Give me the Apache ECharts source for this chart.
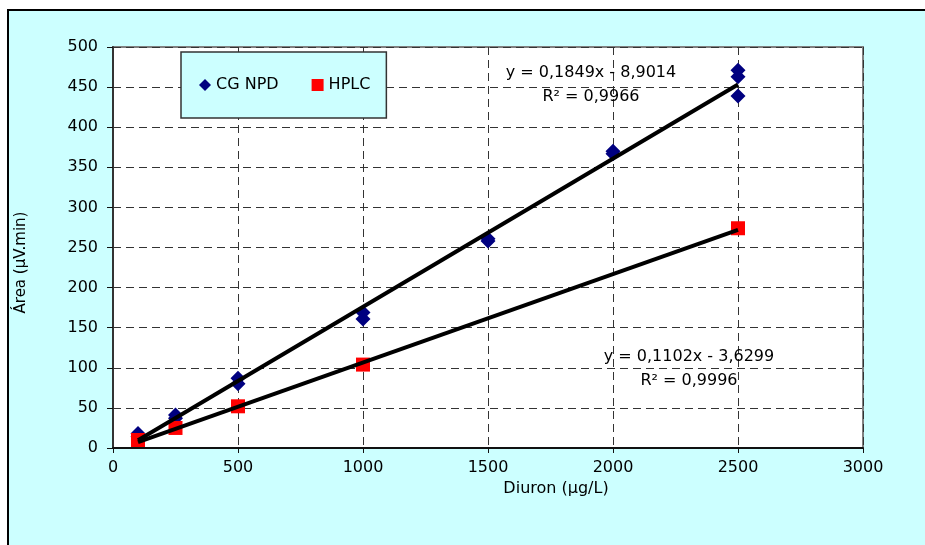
<!DOCTYPE html>
<html>
<head>
<meta charset="utf-8">
<script src="https://cdn.jsdelivr.net/npm/echarts@6/dist/echarts.min.js"></script>
<style>
html,body{margin:0;padding:0;background:#fff;}
#chart{width:925px;height:545px;}
</style>
</head>
<body>
<div id="chart"></div>
<script>
// ---- data ----
const seriesNames = ['CG NPD', 'HPLC'];
const concCG = [100, 100, 250, 250, 500, 500, 1000, 1000, 1500, 1500, 2000, 2000, 2500, 2500, 2500];
const areaCG = [18, 14, 41, 37, 87, 80, 169, 161, 261, 258, 370, 367, 471, 463, 439];
const concHPLC = [100, 250, 500, 1000, 2500];
const areaHPLC = [10, 25, 52, 104, 274];
const trendSlopes = [0.1849, 0.1102];
const trendIntercepts = [-8.9014, -3.6299];
const trendRange = [100, 2500];
const equationTexts = ['y = 0,1849x - 8,9014', 'y = 0,1102x - 3,6299'];
const r2Texts = ['R² = 0,9966', 'R² = 0,9996'];
const xTitle = 'Diuron (µg/L)';
const yTitle = 'Área (µV.min)';

const FONT = 'DejaVu Sans';
const pairs = (xs, ys) => xs.map((x, i) => [x, ys[i]]);
const trendLine = k => trendRange.map(x => [x, trendSlopes[k] * x + trendIntercepts[k]]);

const chart = echarts.init(document.getElementById('chart'), null, {renderer: 'canvas'});
const gridDash = {type: [8, 5], color: '#333', width: 1};
const txt = '#000';

chart.setOption({
  animation: false,
  backgroundColor: '#ffffff',
  textStyle: {fontFamily: FONT},
  grid: {
    left: 113, top: 47, right: 62, bottom: 97,
    show: true, backgroundColor: '#ffffff', borderColor: '#808080', borderWidth: 2
  },
  legend: {
    left: 181, top: 52,
    padding: [25, 16, 25, 18],
    itemGap: 33,
    itemWidth: 12, itemHeight: 12,
    backgroundColor: '#CCFFFF',
    borderColor: '#333', borderWidth: 1.5,
    textStyle: {fontFamily: FONT, fontSize: 16, color: txt},
    data: [
      {name: seriesNames[0], icon: 'diamond'},
      {name: seriesNames[1], icon: 'rect'}
    ]
  },
  xAxis: {
    type: 'value', min: 0, max: 3000, interval: 500,
    name: xTitle, nameLocation: 'middle', nameGap: 33,
    nameTextStyle: {fontFamily: FONT, fontSize: 16, color: txt, padding: [0, 0, 0, 136]},
    axisLine: {show: true, onZero: false, lineStyle: {color: '#111', width: 2}},
    axisTick: {show: true, length: 5, lineStyle: {color: '#111', width: 1}},
    axisLabel: {fontFamily: FONT, fontSize: 16, color: txt, margin: 12, formatter: v => String(v)},
    splitLine: {show: true, lineStyle: gridDash}
  },
  yAxis: {
    type: 'value', min: 0, max: 500, interval: 50,
    name: yTitle, nameLocation: 'middle', nameGap: 84,
    nameTextStyle: {fontFamily: FONT, fontSize: 15, color: txt, padding: [0, 30, 0, 0]},
    axisLine: {show: true, onZero: false, lineStyle: {color: '#333', width: 2}},
    axisTick: {show: true, length: 6, lineStyle: {color: '#111', width: 1}},
    axisLabel: {fontFamily: FONT, fontSize: 16, color: txt, margin: 15, formatter: v => String(v)},
    splitLine: {show: true, lineStyle: gridDash}
  },
  graphic: [
    {type: 'rect', z: -10, silent: true,
     shape: {x: 8, y: 10, width: 1000, height: 1000},
     style: {fill: '#CCFFFF', stroke: '#000', lineWidth: 2}},
    {type: 'text', z: 100, x: 591, y: 73,
     style: {text: equationTexts[0], font: '16px "' + FONT + '"', fill: txt, textAlign: 'center', textVerticalAlign: 'middle'}},
    {type: 'text', z: 100, x: 591, y: 97,
     style: {text: r2Texts[0], font: '16px "' + FONT + '"', fill: txt, textAlign: 'center', textVerticalAlign: 'middle'}},
    {type: 'text', z: 100, x: 689, y: 357,
     style: {text: equationTexts[1], font: '16px "' + FONT + '"', fill: txt, textAlign: 'center', textVerticalAlign: 'middle'}},
    {type: 'text', z: 100, x: 689, y: 381,
     style: {text: r2Texts[1], font: '16px "' + FONT + '"', fill: txt, textAlign: 'center', textVerticalAlign: 'middle'}}
  ],
  series: [
    {name: seriesNames[0], type: 'scatter', symbol: 'diamond', symbolSize: 15,
     itemStyle: {color: '#000080', opacity: 1}, z: 3, data: pairs(concCG, areaCG)},
    {name: seriesNames[1], type: 'scatter', symbol: 'rect', symbolSize: 14,
     itemStyle: {color: '#FF0000', opacity: 1}, z: 4, data: pairs(concHPLC, areaHPLC)},
    {name: 'trend CG', type: 'line', data: trendLine(0), symbol: 'none', z: 5,
     lineStyle: {color: '#000', width: 4}},
    {name: 'trend HPLC', type: 'line', data: trendLine(1), symbol: 'none', z: 5,
     lineStyle: {color: '#000', width: 4}}
  ]
});
</script>
</body>
</html>
